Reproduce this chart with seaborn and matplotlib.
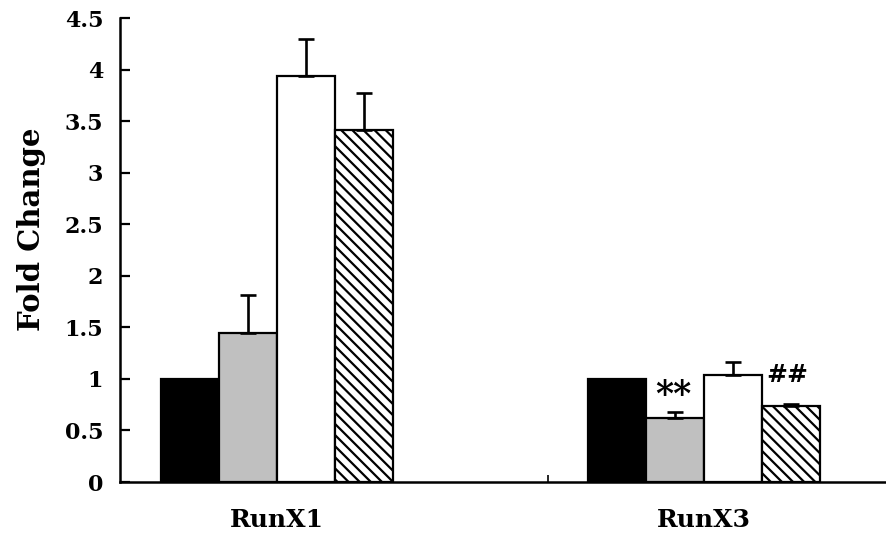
import matplotlib
matplotlib.use("Agg")
import matplotlib.pyplot as plt
import seaborn as sns
import pandas as pd

# data
genes = ["RunX1", "RunX3"]
groups = ["Group 1", "Group 2", "Group 3", "Group 4"]
fold_runx1 = [1.0, 1.45, 3.94, 3.41]
fold_runx3 = [1.0, 0.62, 1.04, 0.74]
err_runx1 = [0.0, 0.36, 0.36, 0.36]
err_runx3 = [0.0, 0.06, 0.12, 0.02]
marks_runx3 = ["", "**", "", "##"]

colors = ["black", "#c0c0c0", "white", "white"]

df = pd.DataFrame({
    "gene": [g for g in genes for _ in groups],
    "group": groups * 2,
    "fold": fold_runx1 + fold_runx3,
})
errs = {"RunX1": err_runx1, "RunX3": err_runx3}

sns.set_style("ticks")
plt.rcParams["font.family"] = ["DejaVu Serif", "Liberation Serif"]
plt.rcParams["font.weight"] = "bold"
plt.rcParams["hatch.linewidth"] = 1.6
for key in ["text.color", "axes.labelcolor", "xtick.color", "ytick.color", "axes.edgecolor"]:
    plt.rcParams[key] = "black"

fig = plt.figure(figsize=(8.86, 5.37), dpi=100)
ax = fig.add_axes([0.1354, 0.1024, 0.8646, 0.864])

sns.barplot(data=df, x="gene", y="fold", hue="group", hue_order=groups,
            palette=colors, width=0.543, edgecolor="black", linewidth=1.6,
            errorbar=None, legend=False, ax=ax)

# hatch on the 4th series, error bars on top
bar_conts = list(ax.containers)
for i, cont in enumerate(bar_conts):
    for j, bar in enumerate(cont):
        if i == 3:
            bar.set_hatch("\\\\\\")
        e = errs[genes[j]][i]
        xc = bar.get_x() + bar.get_width() / 2
        h = bar.get_height()
        if e > 0:
            ax.errorbar(xc, h, yerr=[[0], [e]], fmt="none", ecolor="black",
                        elinewidth=1.9, capsize=6, capthick=1.9, zorder=3)
        m = marks_runx3[i] if genes[j] == "RunX3" else ""
        if m == "**":
            ax.text(xc - 0.003, h + e + 0.07, m, ha="center", va="baseline",
                    fontsize=25, fontweight="bold")
        elif m == "##":
            ax.text(xc - 0.008, h + e + 0.21, m, ha="center", va="baseline",
                    fontsize=18, fontweight="bold")

ax.set_ylim(0, 4.5)
ax.set_xlim(-0.368, 1.426)
ax.set_yticks([0, 0.5, 1, 1.5, 2, 2.5, 3, 3.5, 4, 4.5])
ax.set_yticklabels(["0", "0.5", "1", "1.5", "2", "2.5", "3", "3.5", "4", "4.5"])
ax.tick_params(axis="y", direction="in", length=7, width=1.6, labelsize=16, pad=12)
ax.tick_params(axis="x", length=0, labelsize=18, pad=19)
ax.set_xticks([0, 1])
ax.set_xticks([0.635], minor=True)
ax.tick_params(axis="x", which="minor", direction="in", length=5, width=1.2)
ax.set_xlabel("")
ax.set_ylabel("Fold Change", fontsize=21, fontweight="bold")
ax.yaxis.set_label_coords(-0.097, 0.545)
for lab in ax.get_xticklabels() + ax.get_yticklabels():
    lab.set_fontweight("bold")

sns.despine(ax=ax)
ax.spines["left"].set_linewidth(1.8)
ax.spines["bottom"].set_linewidth(1.8)

fig.savefig("out.png", dpi=100)
